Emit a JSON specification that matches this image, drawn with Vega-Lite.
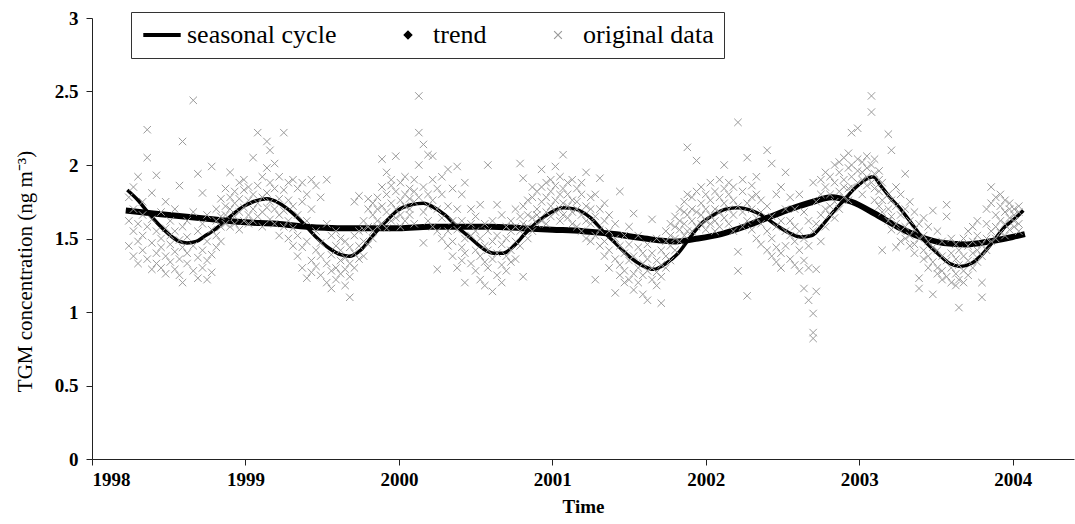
{
"$schema": "https://vega.github.io/schema/vega-lite/v6.json",
"width": 982, "height": 441,
"autosize": {"type": "none"},
"padding": {"left": 92, "top": 18, "right": 1, "bottom": 65},
"background": "white",
"config": {"font": "Liberation Serif", "view": {"stroke": null}},
"datasets": {
"seas": [
{"s":"seasonal cycle","t":1998.23,"v":1.83},{"s":"seasonal cycle","t":1998.30,"v":1.76},{"s":"seasonal cycle","t":1998.37,"v":1.67},{"s":"seasonal cycle","t":1998.43,"v":1.60},{"s":"seasonal cycle","t":1998.50,"v":1.53},{"s":"seasonal cycle","t":1998.57,"v":1.48},{"s":"seasonal cycle","t":1998.62,"v":1.47},{"s":"seasonal cycle","t":1998.68,"v":1.48},{"s":"seasonal cycle","t":1998.74,"v":1.52},{"s":"seasonal cycle","t":1998.80,"v":1.56},{"s":"seasonal cycle","t":1998.88,"v":1.63},{"s":"seasonal cycle","t":1998.96,"v":1.70},{"s":"seasonal cycle","t":1999.05,"v":1.75},{"s":"seasonal cycle","t":1999.14,"v":1.77},{"s":"seasonal cycle","t":1999.22,"v":1.74},{"s":"seasonal cycle","t":1999.30,"v":1.68},{"s":"seasonal cycle","t":1999.38,"v":1.60},{"s":"seasonal cycle","t":1999.46,"v":1.51},{"s":"seasonal cycle","t":1999.55,"v":1.43},{"s":"seasonal cycle","t":1999.62,"v":1.39},{"s":"seasonal cycle","t":1999.68,"v":1.38},{"s":"seasonal cycle","t":1999.75,"v":1.42},{"s":"seasonal cycle","t":1999.83,"v":1.52},{"s":"seasonal cycle","t":1999.91,"v":1.61},{"s":"seasonal cycle","t":1999.99,"v":1.69},{"s":"seasonal cycle","t":2000.08,"v":1.73},{"s":"seasonal cycle","t":2000.16,"v":1.74},{"s":"seasonal cycle","t":2000.23,"v":1.71},{"s":"seasonal cycle","t":2000.30,"v":1.66},{"s":"seasonal cycle","t":2000.38,"v":1.58},{"s":"seasonal cycle","t":2000.47,"v":1.50},{"s":"seasonal cycle","t":2000.55,"v":1.43},{"s":"seasonal cycle","t":2000.62,"v":1.40},{"s":"seasonal cycle","t":2000.68,"v":1.40},{"s":"seasonal cycle","t":2000.75,"v":1.45},{"s":"seasonal cycle","t":2000.82,"v":1.53},{"s":"seasonal cycle","t":2000.90,"v":1.61},{"s":"seasonal cycle","t":2000.98,"v":1.67},{"s":"seasonal cycle","t":2001.07,"v":1.71},{"s":"seasonal cycle","t":2001.15,"v":1.70},{"s":"seasonal cycle","t":2001.25,"v":1.64},{"s":"seasonal cycle","t":2001.33,"v":1.55},{"s":"seasonal cycle","t":2001.42,"v":1.46},{"s":"seasonal cycle","t":2001.51,"v":1.37},{"s":"seasonal cycle","t":2001.58,"v":1.32},{"s":"seasonal cycle","t":2001.66,"v":1.29},{"s":"seasonal cycle","t":2001.74,"v":1.33},{"s":"seasonal cycle","t":2001.82,"v":1.40},{"s":"seasonal cycle","t":2001.90,"v":1.51},{"s":"seasonal cycle","t":2001.97,"v":1.60},{"s":"seasonal cycle","t":2002.05,"v":1.66},{"s":"seasonal cycle","t":2002.13,"v":1.70},{"s":"seasonal cycle","t":2002.21,"v":1.71},{"s":"seasonal cycle","t":2002.30,"v":1.69},{"s":"seasonal cycle","t":2002.38,"v":1.65},{"s":"seasonal cycle","t":2002.46,"v":1.59},{"s":"seasonal cycle","t":2002.54,"v":1.54},{"s":"seasonal cycle","t":2002.62,"v":1.51},{"s":"seasonal cycle","t":2002.69,"v":1.52},{"s":"seasonal cycle","t":2002.76,"v":1.59},{"s":"seasonal cycle","t":2002.83,"v":1.68},{"s":"seasonal cycle","t":2002.90,"v":1.76},{"s":"seasonal cycle","t":2002.97,"v":1.84},{"s":"seasonal cycle","t":2003.04,"v":1.90},{"s":"seasonal cycle","t":2003.09,"v":1.92},{"s":"seasonal cycle","t":2003.14,"v":1.86},{"s":"seasonal cycle","t":2003.20,"v":1.78},{"s":"seasonal cycle","t":2003.27,"v":1.70},{"s":"seasonal cycle","t":2003.35,"v":1.59},{"s":"seasonal cycle","t":2003.43,"v":1.48},{"s":"seasonal cycle","t":2003.51,"v":1.40},{"s":"seasonal cycle","t":2003.59,"v":1.33},{"s":"seasonal cycle","t":2003.66,"v":1.31},{"s":"seasonal cycle","t":2003.73,"v":1.33},{"s":"seasonal cycle","t":2003.80,"v":1.39},{"s":"seasonal cycle","t":2003.88,"v":1.49},{"s":"seasonal cycle","t":2003.95,"v":1.58},{"s":"seasonal cycle","t":2004.02,"v":1.64},{"s":"seasonal cycle","t":2004.07,"v":1.69}
],
"trend": [
{"s":"trend","t":1998.22,"v":1.69},{"s":"trend","t":1998.40,"v":1.67},{"s":"trend","t":1998.60,"v":1.65},{"s":"trend","t":1998.80,"v":1.63},{"s":"trend","t":1999.00,"v":1.61},{"s":"trend","t":1999.20,"v":1.60},{"s":"trend","t":1999.40,"v":1.58},{"s":"trend","t":1999.60,"v":1.57},{"s":"trend","t":1999.80,"v":1.57},{"s":"trend","t":2000.00,"v":1.57},{"s":"trend","t":2000.20,"v":1.58},{"s":"trend","t":2000.40,"v":1.58},{"s":"trend","t":2000.60,"v":1.58},{"s":"trend","t":2000.80,"v":1.57},{"s":"trend","t":2001.00,"v":1.56},{"s":"trend","t":2001.20,"v":1.55},{"s":"trend","t":2001.40,"v":1.53},{"s":"trend","t":2001.60,"v":1.50},{"s":"trend","t":2001.80,"v":1.48},{"s":"trend","t":2001.95,"v":1.50},{"s":"trend","t":2002.10,"v":1.53},{"s":"trend","t":2002.25,"v":1.58},{"s":"trend","t":2002.40,"v":1.64},{"s":"trend","t":2002.55,"v":1.70},{"s":"trend","t":2002.70,"v":1.75},{"s":"trend","t":2002.82,"v":1.78},{"s":"trend","t":2002.95,"v":1.75},{"s":"trend","t":2003.10,"v":1.67},{"s":"trend","t":2003.25,"v":1.58},{"s":"trend","t":2003.40,"v":1.51},{"s":"trend","t":2003.55,"v":1.47},{"s":"trend","t":2003.70,"v":1.46},{"s":"trend","t":2003.85,"v":1.48},{"s":"trend","t":2004.00,"v":1.51},{"s":"trend","t":2004.08,"v":1.53}
],
"obs": [
{"s":"original data","t":1998.24,"v":[1.62,1.78,1.45]},
{"s":"original data","t":1998.27,"v":[1.85,1.55,1.38,1.70]},
{"s":"original data","t":1998.30,"v":[1.92,1.60,1.33,1.48]},
{"s":"original data","t":1998.33,"v":[1.75,1.52,1.42,1.66]},
{"s":"original data","t":1998.36,"v":[2.24,2.05,1.58,1.36]},
{"s":"original data","t":1998.39,"v":[1.29,1.47,1.63,1.81]},
{"s":"original data","t":1998.42,"v":[1.93,1.55,1.40,1.33]},
{"s":"original data","t":1998.45,"v":[1.50,1.68,1.30,1.44]},
{"s":"original data","t":1998.48,"v":[1.38,1.57,1.75,1.26]},
{"s":"original data","t":1998.51,"v":[1.46,1.34,1.62,1.52]},
{"s":"original data","t":1998.54,"v":[1.41,1.29,1.55,1.70]},
{"s":"original data","t":1998.57,"v":[1.36,1.49,1.86,1.25]},
{"s":"original data","t":1998.59,"v":[2.16,1.20,1.44,1.58]},
{"s":"original data","t":1998.62,"v":[1.33,1.51,1.62,1.40]},
{"s":"original data","t":1998.66,"v":[2.44,1.28,1.45,1.68]},
{"s":"original data","t":1998.69,"v":[1.94,1.37,1.55,1.23]},
{"s":"original data","t":1998.72,"v":[1.81,1.42,1.30,1.60]},
{"s":"original data","t":1998.75,"v":[1.22,1.48,1.66,1.35]},
{"s":"original data","t":1998.78,"v":[1.99,1.56,1.39,1.27]},
{"s":"original data","t":1998.81,"v":[1.52,1.70,1.44,1.62]},
{"s":"original data","t":1998.84,"v":[1.65,1.48,1.77,1.58]},
{"s":"original data","t":1998.87,"v":[1.72,1.60,1.84,1.66]},
{"s":"original data","t":1998.90,"v":[1.95,1.70,1.58,1.78]},
{"s":"original data","t":1998.93,"v":[1.82,1.65,1.74,1.60]},
{"s":"original data","t":1998.96,"v":[1.77,1.88,1.68,1.56]},
{"s":"original data","t":1998.99,"v":[1.71,1.83,1.62,1.90]},
{"s":"original data","t":1999.02,"v":[1.76,1.66,1.85,1.60]},
{"s":"original data","t":1999.05,"v":[2.05,1.80,1.70,1.62]},
{"s":"original data","t":1999.08,"v":[2.22,1.74,1.86,1.65]},
{"s":"original data","t":1999.11,"v":[1.78,1.92,1.68,1.58]},
{"s":"original data","t":1999.14,"v":[2.16,1.98,1.81,1.71]},
{"s":"original data","t":1999.16,"v":[2.10,1.75,1.63,1.88]},
{"s":"original data","t":1999.19,"v":[2.01,1.84,1.70,1.60]},
{"s":"original data","t":1999.22,"v":[1.92,1.77,1.66,1.52]},
{"s":"original data","t":1999.25,"v":[2.22,1.83,1.69,1.58]},
{"s":"original data","t":1999.28,"v":[1.76,1.62,1.88,1.50]},
{"s":"original data","t":1999.31,"v":[1.90,1.72,1.57,1.45]},
{"s":"original data","t":1999.34,"v":[1.84,1.66,1.52,1.38]},
{"s":"original data","t":1999.37,"v":[1.88,1.75,1.44,1.30]},
{"s":"original data","t":1999.40,"v":[1.80,1.23,1.48,1.62]},
{"s":"original data","t":1999.43,"v":[1.90,1.70,1.35,1.27]},
{"s":"original data","t":1999.46,"v":[1.86,1.55,1.42,1.31]},
{"s":"original data","t":1999.49,"v":[1.78,1.47,1.25,1.38]},
{"s":"original data","t":1999.53,"v":[1.90,1.60,1.33,1.20]},
{"s":"original data","t":1999.56,"v":[1.52,1.39,1.16,1.28]},
{"s":"original data","t":1999.59,"v":[1.45,1.30,1.22,1.55]},
{"s":"original data","t":1999.62,"v":[1.42,1.26,1.35,1.50]},
{"s":"original data","t":1999.65,"v":[1.37,1.18,1.48,1.29]},
{"s":"original data","t":1999.68,"v":[1.10,1.33,1.44,1.24]},
{"s":"original data","t":1999.71,"v":[1.75,1.40,1.52,1.30]},
{"s":"original data","t":1999.74,"v":[1.36,1.55,1.79,1.45]},
{"s":"original data","t":1999.77,"v":[1.48,1.62,1.38,1.56]},
{"s":"original data","t":1999.80,"v":[1.58,1.70,1.46,1.77]},
{"s":"original data","t":1999.83,"v":[1.55,1.66,1.74,1.50]},
{"s":"original data","t":1999.86,"v":[1.62,1.78,1.58,1.70]},
{"s":"original data","t":1999.89,"v":[2.04,1.72,1.60,1.85]},
{"s":"original data","t":1999.92,"v":[1.95,1.68,1.80,1.57]},
{"s":"original data","t":1999.95,"v":[1.86,1.74,1.62,1.90]},
{"s":"original data","t":1999.98,"v":[2.06,1.70,1.82,1.64]},
{"s":"original data","t":2000.01,"v":[1.76,1.88,1.66,1.58]},
{"s":"original data","t":2000.04,"v":[1.80,1.72,1.92,1.62]},
{"s":"original data","t":2000.07,"v":[1.84,1.70,1.66,1.77]},
{"s":"original data","t":2000.10,"v":[1.90,1.75,1.60,1.82]},
{"s":"original data","t":2000.13,"v":[2.47,2.22,2.00,1.78]},
{"s":"original data","t":2000.16,"v":[2.14,1.47,1.85,1.68]},
{"s":"original data","t":2000.19,"v":[2.07,1.80,1.62,1.72]},
{"s":"original data","t":2000.22,"v":[2.06,1.76,1.58,1.90]},
{"s":"original data","t":2000.25,"v":[1.29,1.70,1.84,1.55]},
{"s":"original data","t":2000.28,"v":[1.80,1.64,1.50,1.92]},
{"s":"original data","t":2000.32,"v":[1.97,1.72,1.55,1.45]},
{"s":"original data","t":2000.35,"v":[1.84,1.62,1.48,1.38]},
{"s":"original data","t":2000.38,"v":[1.99,1.30,1.56,1.70]},
{"s":"original data","t":2000.41,"v":[1.80,1.44,1.35,1.62]},
{"s":"original data","t":2000.43,"v":[1.88,1.20,1.50,1.40]},
{"s":"original data","t":2000.47,"v":[1.70,1.52,1.33,1.60]},
{"s":"original data","t":2000.50,"v":[1.65,1.42,1.28,1.55]},
{"s":"original data","t":2000.53,"v":[1.73,1.38,1.22,1.50]},
{"s":"original data","t":2000.56,"v":[1.60,1.34,1.45,1.18]},
{"s":"original data","t":2000.58,"v":[2.00,1.30,1.42,1.55]},
{"s":"original data","t":2000.61,"v":[1.14,1.36,1.48,1.62]},
{"s":"original data","t":2000.64,"v":[1.73,1.25,1.40,1.52]},
{"s":"original data","t":2000.67,"v":[1.66,1.32,1.46,1.20]},
{"s":"original data","t":2000.70,"v":[1.58,1.38,1.50,1.28]},
{"s":"original data","t":2000.73,"v":[1.62,1.42,1.34,1.55]},
{"s":"original data","t":2000.76,"v":[1.70,1.48,1.58,1.36]},
{"s":"original data","t":2000.79,"v":[2.01,1.55,1.65,1.45]},
{"s":"original data","t":2000.81,"v":[1.91,1.24,1.60,1.72]},
{"s":"original data","t":2000.84,"v":[1.76,1.58,1.50,1.66]},
{"s":"original data","t":2000.87,"v":[1.85,1.64,1.55,1.78]},
{"s":"original data","t":2000.90,"v":[1.70,1.82,1.60,1.66]},
{"s":"original data","t":2000.93,"v":[1.97,1.75,1.62,1.85]},
{"s":"original data","t":2000.96,"v":[1.78,1.68,1.88,1.60]},
{"s":"original data","t":2000.99,"v":[1.82,1.72,1.65,1.90]},
{"s":"original data","t":2001.02,"v":[1.99,1.76,1.68,1.86]},
{"s":"original data","t":2001.05,"v":[1.80,1.70,1.92,1.62]},
{"s":"original data","t":2001.07,"v":[2.07,1.74,1.84,1.66]},
{"s":"original data","t":2001.10,"v":[1.88,1.72,1.64,1.80]},
{"s":"original data","t":2001.13,"v":[1.90,1.76,1.60,1.68]},
{"s":"original data","t":2001.16,"v":[1.84,1.70,1.58,1.75]},
{"s":"original data","t":2001.19,"v":[1.80,1.66,1.55,1.88]},
{"s":"original data","t":2001.22,"v":[1.95,1.72,1.62,1.50]},
{"s":"original data","t":2001.25,"v":[1.78,1.60,1.48,1.70]},
{"s":"original data","t":2001.28,"v":[1.22,1.65,1.52,1.80]},
{"s":"original data","t":2001.31,"v":[1.91,1.56,1.45,1.70]},
{"s":"original data","t":2001.34,"v":[1.62,1.48,1.38,1.74]},
{"s":"original data","t":2001.37,"v":[1.55,1.42,1.30,1.66]},
{"s":"original data","t":2001.41,"v":[1.13,1.50,1.36,1.60]},
{"s":"original data","t":2001.44,"v":[1.82,1.45,1.32,1.25]},
{"s":"original data","t":2001.47,"v":[1.52,1.40,1.28,1.20]},
{"s":"original data","t":2001.50,"v":[1.46,1.35,1.22,1.58]},
{"s":"original data","t":2001.53,"v":[1.67,1.38,1.26,1.15]},
{"s":"original data","t":2001.56,"v":[1.44,1.30,1.20,1.52]},
{"s":"original data","t":2001.59,"v":[1.40,1.25,1.33,1.12]},
{"s":"original data","t":2001.62,"v":[1.08,1.36,1.28,1.46]},
{"s":"original data","t":2001.65,"v":[1.63,1.30,1.22,1.40]},
{"s":"original data","t":2001.68,"v":[1.35,1.18,1.27,1.50]},
{"s":"original data","t":2001.71,"v":[1.06,1.32,1.42,1.24]},
{"s":"original data","t":2001.74,"v":[1.38,1.48,1.30,1.55]},
{"s":"original data","t":2001.77,"v":[1.45,1.35,1.60,1.52]},
{"s":"original data","t":2001.80,"v":[1.50,1.42,1.65,1.58]},
{"s":"original data","t":2001.83,"v":[1.56,1.70,1.48,1.62]},
{"s":"original data","t":2001.86,"v":[1.60,1.75,1.52,1.68]},
{"s":"original data","t":2001.88,"v":[2.12,1.66,1.55,1.80]},
{"s":"original data","t":2001.91,"v":[1.78,1.62,1.70,1.55]},
{"s":"original data","t":2001.94,"v":[2.03,1.68,1.58,1.82]},
{"s":"original data","t":2001.97,"v":[1.74,1.60,1.85,1.66]},
{"s":"original data","t":2002.00,"v":[1.70,1.80,1.62,1.56]},
{"s":"original data","t":2002.03,"v":[1.76,1.66,1.88,1.60]},
{"s":"original data","t":2002.06,"v":[1.82,1.70,1.62,1.55]},
{"s":"original data","t":2002.09,"v":[1.78,1.68,1.90,1.58]},
{"s":"original data","t":2002.12,"v":[2.00,1.74,1.64,1.84]},
{"s":"original data","t":2002.15,"v":[1.80,1.70,1.60,1.88]},
{"s":"original data","t":2002.18,"v":[1.76,1.66,1.85,1.55]},
{"s":"original data","t":2002.21,"v":[2.29,1.41,1.28,1.72]},
{"s":"original data","t":2002.24,"v":[1.82,1.68,1.58,1.90]},
{"s":"original data","t":2002.27,"v":[2.05,1.11,1.74,1.62]},
{"s":"original data","t":2002.30,"v":[1.86,1.70,1.56,1.78]},
{"s":"original data","t":2002.33,"v":[1.80,1.64,1.50,1.92]},
{"s":"original data","t":2002.36,"v":[1.76,1.60,1.46,1.68]},
{"s":"original data","t":2002.40,"v":[2.10,1.72,1.55,1.42]},
{"s":"original data","t":2002.43,"v":[2.01,1.65,1.50,1.38]},
{"s":"original data","t":2002.46,"v":[1.80,1.58,1.44,1.34]},
{"s":"original data","t":2002.49,"v":[1.85,1.62,1.40,1.30]},
{"s":"original data","t":2002.52,"v":[1.95,1.55,1.45,1.70]},
{"s":"original data","t":2002.55,"v":[1.78,1.52,1.36,1.62]},
{"s":"original data","t":2002.58,"v":[1.70,1.48,1.32,1.58]},
{"s":"original data","t":2002.61,"v":[1.80,1.42,1.28,1.55]},
{"s":"original data","t":2002.64,"v":[1.16,1.50,1.35,1.68]},
{"s":"original data","t":2002.67,"v":[1.08,1.30,1.45,1.62]},
{"s":"original data","t":2002.70,"v":[0.99,0.86,0.82,1.88,1.55]},
{"s":"original data","t":2002.72,"v":[1.29,1.14,1.60,1.75]},
{"s":"original data","t":2002.75,"v":[1.90,1.66,1.48,1.80]},
{"s":"original data","t":2002.78,"v":[1.85,1.70,1.58,1.95]},
{"s":"original data","t":2002.81,"v":[1.80,1.92,1.66,1.72]},
{"s":"original data","t":2002.84,"v":[1.88,1.75,2.00,1.64]},
{"s":"original data","t":2002.87,"v":[1.95,1.82,1.70,2.02]},
{"s":"original data","t":2002.90,"v":[1.90,2.05,1.78,1.85]},
{"s":"original data","t":2002.93,"v":[1.98,1.84,2.08,1.76]},
{"s":"original data","t":2002.95,"v":[2.22,1.92,1.85,2.00]},
{"s":"original data","t":2002.99,"v":[2.25,1.96,1.88,2.04]},
{"s":"original data","t":2003.02,"v":[2.02,1.90,1.80,1.95]},
{"s":"original data","t":2003.05,"v":[1.98,1.86,2.06,1.92]},
{"s":"original data","t":2003.08,"v":[2.47,2.36,2.00,1.88]},
{"s":"original data","t":2003.10,"v":[2.04,1.94,1.84,1.76]},
{"s":"original data","t":2003.13,"v":[1.96,1.82,1.72,1.90]},
{"s":"original data","t":2003.15,"v":[1.42,1.88,1.76,1.68]},
{"s":"original data","t":2003.19,"v":[2.21,1.80,1.70,1.62]},
{"s":"original data","t":2003.21,"v":[2.10,1.76,1.65,1.56]},
{"s":"original data","t":2003.24,"v":[1.44,1.72,1.60,1.85]},
{"s":"original data","t":2003.27,"v":[1.80,1.66,1.55,1.48]},
{"s":"original data","t":2003.30,"v":[1.94,1.70,1.58,1.50]},
{"s":"original data","t":2003.33,"v":[1.75,1.62,1.52,1.45]},
{"s":"original data","t":2003.36,"v":[1.68,1.56,1.46,1.40]},
{"s":"original data","t":2003.39,"v":[1.23,1.16,1.60,1.50]},
{"s":"original data","t":2003.42,"v":[1.64,1.52,1.42,1.36]},
{"s":"original data","t":2003.45,"v":[1.58,1.48,1.38,1.30]},
{"s":"original data","t":2003.48,"v":[1.69,1.12,1.44,1.34]},
{"s":"original data","t":2003.51,"v":[1.55,1.42,1.30,1.26]},
{"s":"original data","t":2003.54,"v":[1.48,1.38,1.28,1.22]},
{"s":"original data","t":2003.57,"v":[1.73,1.65,1.35,1.24]},
{"s":"original data","t":2003.60,"v":[1.50,1.40,1.30,1.20]},
{"s":"original data","t":2003.63,"v":[1.46,1.36,1.26,1.18]},
{"s":"original data","t":2003.65,"v":[1.03,1.42,1.32,1.22]},
{"s":"original data","t":2003.68,"v":[1.50,1.38,1.28,1.20]},
{"s":"original data","t":2003.71,"v":[1.45,1.35,1.25,1.55]},
{"s":"original data","t":2003.74,"v":[1.48,1.40,1.30,1.58]},
{"s":"original data","t":2003.77,"v":[1.52,1.42,1.34,1.62]},
{"s":"original data","t":2003.80,"v":[1.20,1.10,1.46,1.38]},
{"s":"original data","t":2003.83,"v":[1.60,1.50,1.42,1.70]},
{"s":"original data","t":2003.86,"v":[1.85,1.74,1.55,1.48]},
{"s":"original data","t":2003.89,"v":[1.66,1.58,1.78,1.50]},
{"s":"original data","t":2003.92,"v":[1.72,1.62,1.54,1.80]},
{"s":"original data","t":2003.95,"v":[1.68,1.60,1.76,1.52]},
{"s":"original data","t":2003.98,"v":[1.74,1.64,1.56,1.70]},
{"s":"original data","t":2004.01,"v":[1.70,1.62,1.58,1.66]},
{"s":"original data","t":2004.04,"v":[1.68,1.60,1.55,1.72]}
]
},
"layer": [
{
"data": {"name": "seas"},
"mark": {"type": "line", "strokeWidth": 3.5, "interpolate": "monotone"},
"encoding": {
"x": {"field": "t", "type": "quantitative", "scale": {"domain": [1998, 2004.4], "nice": false, "zero": false},
"axis": {"values": [1998, 1999, 2000, 2001, 2002, 2003, 2004], "format": "d", "grid": false, "title": "Time",
"labelFont": "Liberation Serif", "labelFontSize": 19, "labelFontWeight": "bold", "labelColor": "black",
"titleFont": "Liberation Serif", "titleFontSize": 19, "titleFontWeight": "bold", "titleColor": "black", "titlePadding": 8,
"domainColor": "#222", "tickColor": "#222", "tickSize": 6, "labelPadding": 5}},
"y": {"field": "v", "type": "quantitative", "scale": {"domain": [0, 3], "nice": false},
"axis": {"values": [0, 0.5, 1, 1.5, 2, 2.5, 3], "format": "~g", "grid": false, "title": "TGM concentration (ng m⁻³)",
"labelFont": "Liberation Serif", "labelFontSize": 19, "labelFontWeight": "bold", "labelColor": "black",
"titleFont": "Liberation Serif", "titleFontSize": 21, "titleFontWeight": "normal", "titleColor": "black",
"titleX": -67, "titleY": 253, "titleBaseline": "middle", "titleAngle": 270,
"domainColor": "#222", "tickColor": "#222", "tickSize": 6, "labelPadding": 8}},
"color": {"field": "s", "type": "nominal",
"scale": {"domain": ["seasonal cycle", "trend", "original data"], "range": ["black", "black", "#9a9a9a"]},
"legend": {"title": null, "orient": "none", "legendX": 39, "legendY": -6, "direction": "horizontal", "columns": 3,
"strokeColor": "#333", "fillColor": "white", "padding": 10, "symbolOffset": 8, "columnPadding": 50,
"labelFont": "Liberation Serif", "labelFontSize": 26, "labelColor": "black", "labelOffset": 12, "symbolSize": 1300,
"encode": {"symbols": {"update": {
"fill": {"signal": "datum.value === 'trend' ? 'black' : 'transparent'"},
"stroke": {"signal": "datum.value === 'original data' ? '#9a9a9a' : 'black'"},
"strokeWidth": {"signal": "datum.value === 'seasonal cycle' ? 4 : 1.2"},
"size": {"signal": "datum.value === 'seasonal cycle' ? 1400 : 60"}}}}}}
}
},
{
"data": {"name": "trend"},
"mark": {"type": "line", "strokeWidth": 6, "interpolate": "monotone"},
"encoding": {
"x": {"field": "t", "type": "quantitative"},
"y": {"field": "v", "type": "quantitative"},
"color": {"field": "s", "type": "nominal"}
}
},
{
"data": {"name": "obs"},
"transform": [{"flatten": ["v"]}],
"mark": {"type": "point", "filled": false, "strokeWidth": 1, "opacity": 1, "size": 55},
"encoding": {
"x": {"field": "t", "type": "quantitative"},
"y": {"field": "v", "type": "quantitative"},
"color": {"field": "s", "type": "nominal"},
"shape": {"field": "s", "type": "nominal",
"scale": {"domain": ["seasonal cycle", "trend", "original data"], "range": ["stroke", "diamond", "M-1,-1L1,1M-1,1L1,-1"]},
"legend": {"title": null, "orient": "none", "legendX": 39, "legendY": -6, "direction": "horizontal", "columns": 3,
"strokeColor": "#333", "fillColor": "white", "padding": 10, "symbolOffset": 8, "columnPadding": 50,
"labelFont": "Liberation Serif", "labelFontSize": 26, "labelColor": "black", "labelOffset": 12, "symbolSize": 1300}}
}
}
]
}
